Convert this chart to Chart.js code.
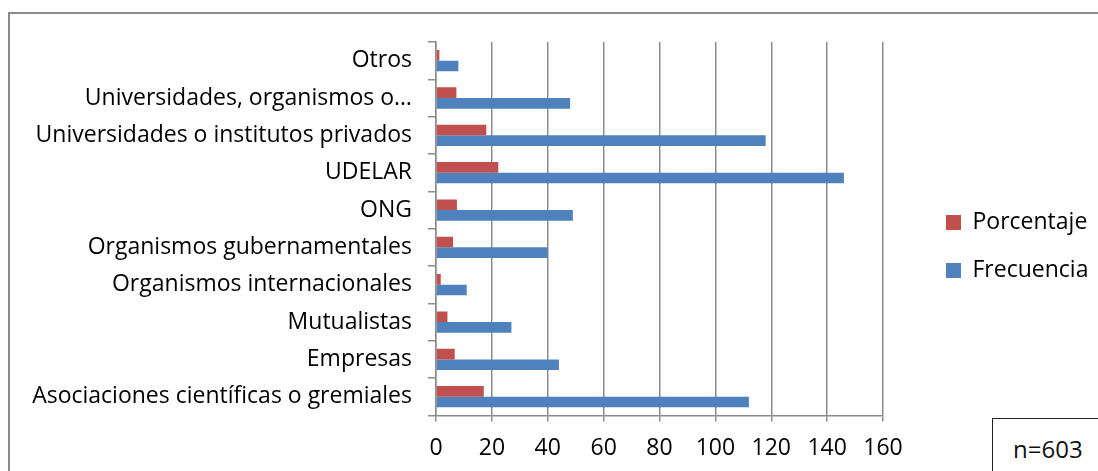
<!DOCTYPE html>
<html>
<head>
<meta charset="utf-8">
<script src="https://cdn.jsdelivr.net/npm/chart.js@4"></script>
<style>
  body { margin: 0; background: #fff; overflow: hidden; }
  #wrap { position: relative; width: 1098px; height: 471px; }
  #frame { position: absolute; left: 8px; top: 12px; width: 1200px; height: 600px; border: 2px solid #8a8a8a; }
  #note { position: absolute; left: 992px; top: 418px; width: 200px; height: 100px; border: 1px solid #222; background: #fff;
          font-family: "Open Sans", sans-serif; font-size: 24px; color: #111; }
  #note span { position: absolute; left: 20px; top: 13px; }
  canvas { position: absolute; left: 0; top: 0; }
</style>
</head>
<body>
<div id="wrap">
  <div id="frame"></div>
  <canvas id="chart" width="1098" height="471"></canvas>
  <div id="note"><span>n=603</span></div>
</div>
<script>
// categories top to bottom, as shown
const categories = [
  'Otros',
  'Universidades, organismos o…',
  'Universidades o institutos privados',
  'UDELAR',
  'ONG',
  'Organismos gubernamentales',
  'Organismos internacionales',
  'Mutualistas',
  'Empresas',
  'Asociaciones científicas o gremiales'
];
const porcentaje = [1.2, 7.3, 18.0, 22.3, 7.5, 6.1, 1.7, 4.1, 6.7, 17.1];
const frecuencia = [8, 48, 118, 146, 49, 40, 11, 27, 44, 112];
const xTicks = [0, 20, 40, 60, 80, 100, 120, 140, 160];

const gridGray = '#8c8c8c';
const font = { family: '"Open Sans", sans-serif', size: 23 };

// keep legend box a fixed width, then move it next to the plot
const legendPlace = {
  id: 'legendPlace',
  beforeLayout(chart) {
    const lg = chart.legend;
    if (lg && !lg._fixed) {
      const fit = lg.fit.bind(lg);
      lg.fit = function () { fit(); this.width = 200; };
      lg._fixed = true;
    }
  },
  afterLayout(chart) {
    const lg = chart.legend;
    lg.left = 921;
    lg.right = lg.left + lg.width;
    lg.top -= 12;
    lg.bottom -= 12;
  }
};

new Chart(document.getElementById('chart'), {
  type: 'bar',
  data: {
    labels: categories,
    datasets: [
      { label: 'Porcentaje', data: porcentaje, backgroundColor: '#C0504D' },
      { label: 'Frecuencia', data: frecuencia, backgroundColor: '#4F81BD' }
    ]
  },
  options: {
    indexAxis: 'y',
    responsive: false,
    animation: false,
    categoryPercentage: 0.57,
    barPercentage: 1,
    layout: { padding: { top: 42, bottom: -4, left: 0, right: 15 } },
    plugins: {
      tooltip: { enabled: false },
      legend: {
        position: 'right',
        labels: {
          boxWidth: 15,
          boxHeight: 15,
          padding: 25,
          color: '#000',
          font: font
        }
      }
    },
    scales: {
      x: {
        min: 0,
        max: 160,
        afterBuildTicks: (s) => { s.ticks = xTicks.map(v => ({ value: v })); },
        grid: { color: gridGray, lineWidth: 1.5, tickLength: 6, tickColor: gridGray },
        border: { color: gridGray, width: 1.5 },
        ticks: { color: '#000', font: font, padding: 13, maxRotation: 0 }
      },
      y: {
        afterFit: (s) => { s.width = 436; },
        grid: { drawOnChartArea: false, offset: true, tickLength: 8, color: gridGray, lineWidth: 1.5 },
        border: { color: gridGray, width: 1.5 },
        ticks: { color: '#000', font: font, padding: 16, autoSkip: false }
      }
    }
  },
  plugins: [legendPlace]
});
</script>
</body>
</html>
